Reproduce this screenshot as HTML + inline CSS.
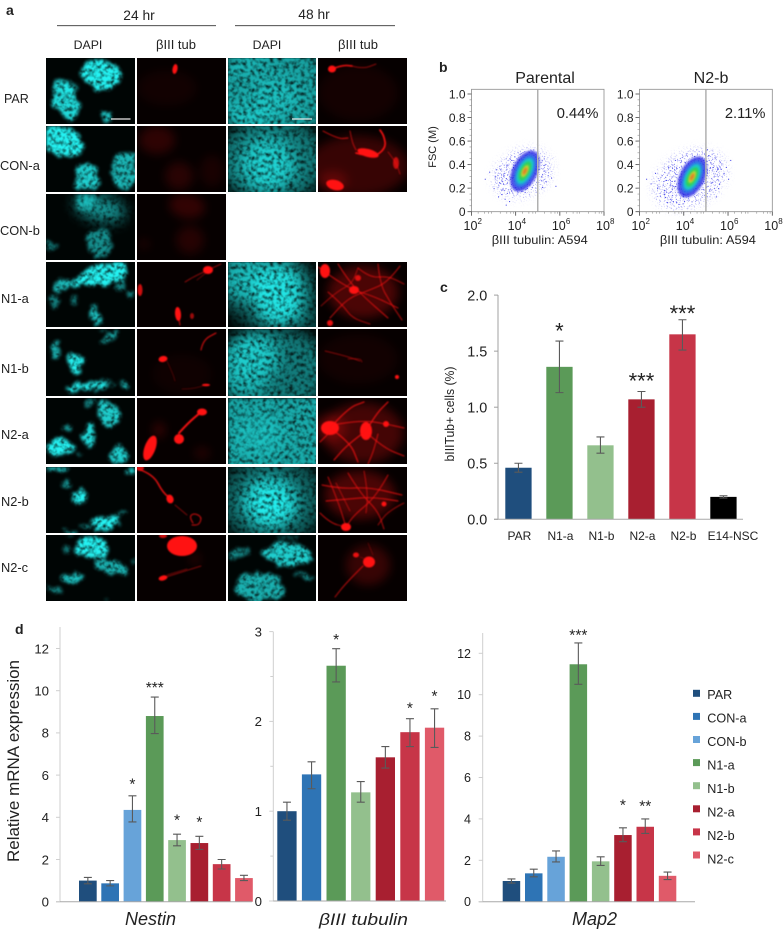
<!DOCTYPE html>
<html lang="en">
<head>
<meta charset="utf-8">
<title>Multi-panel neuronal differentiation figure</title>
<style>
html,body{margin:0;padding:0;background:#fff;width:784px;height:932px;overflow:hidden}
svg{display:block}
text{font-family:"Liberation Sans",sans-serif;fill:#222}
</style>
</head>
<body>
<svg id="figure" xmlns="http://www.w3.org/2000/svg" width="784" height="932" viewBox="0 0 784 932">
  <defs>
    <filter id="dapiTex" filterUnits="userSpaceOnUse" x="0" y="0" width="784" height="932" color-interpolation-filters="sRGB">
      <feTurbulence type="fractalNoise" baseFrequency="0.09" numOctaves="2" seed="11" result="warp"/>
      <feDisplacementMap in="SourceGraphic" in2="warp" scale="13" xChannelSelector="R" yChannelSelector="G"/>
      <feGaussianBlur stdDeviation="1.5" result="b"/>
      <feTurbulence type="fractalNoise" baseFrequency="0.26" numOctaves="3" seed="7"/>
      <feColorMatrix values="0 0 0 0 0 0 0 0 0 0 0 0 0 0 0 2.1 0 0 0 -0.2" result="n"/>
      <feComposite in="b" in2="n" operator="in"/>
      <feGaussianBlur stdDeviation="0.55"/>
    </filter>
    <filter id="dapiSoft" filterUnits="userSpaceOnUse" x="0" y="0" width="784" height="932" color-interpolation-filters="sRGB">
      <feGaussianBlur in="SourceGraphic" stdDeviation="7" result="b"/>
      <feTurbulence type="fractalNoise" baseFrequency="0.26" numOctaves="3" seed="5"/>
      <feColorMatrix values="0 0 0 0 0 0 0 0 0 0 0 0 0 0 0 2.1 0 0 0 -0.2" result="n"/>
      <feComposite in="b" in2="n" operator="in"/>
      <feGaussianBlur stdDeviation="0.55"/>
    </filter>
    <filter id="redGlow" filterUnits="userSpaceOnUse" x="0" y="0" width="784" height="932" color-interpolation-filters="sRGB">
      <feGaussianBlur in="SourceGraphic" stdDeviation="0.8"/>
    </filter>
    <filter id="redSoft" filterUnits="userSpaceOnUse" x="0" y="0" width="784" height="932" color-interpolation-filters="sRGB">
      <feGaussianBlur in="SourceGraphic" stdDeviation="5"/>
    </filter>
    <filter id="flowSoft" filterUnits="userSpaceOnUse" x="430" y="80" width="354" height="140" color-interpolation-filters="sRGB"><feGaussianBlur stdDeviation="1.1"/></filter>
    <filter id="flowSpeckle" filterUnits="userSpaceOnUse" x="430" y="80" width="354" height="140" color-interpolation-filters="sRGB">
      <feGaussianBlur in="SourceGraphic" stdDeviation="5" result="b"/>
      <feTurbulence type="fractalNoise" baseFrequency="0.8" numOctaves="1" seed="3"/>
      <feColorMatrix values="0 0 0 0 0 0 0 0 0 0 0 0 0 0 0 9 0 0 0 -5.3" result="n"/>
      <feComposite in="b" in2="n" operator="in"/>
    </filter>
  </defs>

  <rect x="0" y="0" width="784" height="932" fill="#fff"/>

  <g id="panel-a">
    <text x="6" y="15" font-size="14" font-weight="700" fill="#111">a</text>
    <text x="139" y="20" font-size="13.8" text-anchor="middle">24 hr</text>
    <line x1="57" y1="25.7" x2="216" y2="25.7" stroke="#333" stroke-width="0.9"/>
    <text x="314" y="19" font-size="13.8" text-anchor="middle">48 hr</text>
    <line x1="235" y1="25.7" x2="395" y2="25.7" stroke="#333" stroke-width="0.9"/>
    <text x="88" y="49" font-size="12.3" text-anchor="middle">DAPI</text>
    <text x="176" y="49" font-size="13" text-anchor="middle">βIII tub</text>
    <text x="267" y="49" font-size="12.3" text-anchor="middle">DAPI</text>
    <text x="358" y="49" font-size="13" text-anchor="middle">βIII tub</text>
    <text x="4" y="103" font-size="12.5">PAR</text>
    <text x="0" y="170" font-size="12.8">CON-a</text>
    <text x="0" y="235" font-size="12.8">CON-b</text>
    <text x="1" y="303" font-size="12.8">N1-a</text>
    <text x="1" y="373" font-size="12.8">N1-b</text>
    <text x="1" y="439" font-size="12.8">N2-a</text>
    <text x="1" y="506" font-size="12.8">N2-b</text>
    <text x="1" y="572" font-size="12.8">N2-c</text>
  </g>

  <g id="panel-b">
    <text x="439" y="72" font-size="14" font-weight="700" fill="#111">b</text>
    <text x="545" y="83" font-size="16" text-anchor="middle">Parental</text>
    <text x="711" y="83" font-size="16" text-anchor="middle">N2-b</text>
    <text transform="translate(436,147) rotate(-90)" font-size="11" text-anchor="middle">FSC (M)</text>
  </g>

  <g id="panel-c">
    <text x="440" y="292" font-size="14" font-weight="700" fill="#111">c</text>
    <text transform="translate(454,414) rotate(-90)" font-size="12.5" text-anchor="middle" textLength="95" lengthAdjust="spacingAndGlyphs">bIIITub+ cells (%)</text>
  </g>

  <g id="panel-d">
    <text x="15" y="634" font-size="14" font-weight="700" fill="#111">d</text>
    <text transform="translate(19,761) rotate(-90)" font-size="16.5" text-anchor="middle" textLength="202" lengthAdjust="spacingAndGlyphs">Relative  mRNA expression</text>
    <text x="150.5" y="925" font-size="18" font-style="italic" text-anchor="middle">Nestin</text>
    <text x="363.5" y="925" font-size="17" font-style="italic" text-anchor="middle" textLength="89" lengthAdjust="spacingAndGlyphs">βIII tubulin</text>
    <text x="594.5" y="925" font-size="18" font-style="italic" text-anchor="middle">Map2</text>
  </g>
</svg>

<script>
/* ---------- chart data: panel c ---------- */
const cCategories = ['PAR','N1-a','N1-b','N2-a','N2-b','E14-NSC'];
const cValues = [0.46,1.36,0.66,1.07,1.65,0.20];
const cErrHigh = [0.50,1.59,0.735,1.14,1.78,0.21];
const cErrLow = [0.42,1.13,0.59,1.00,1.51,0.19];
const cStars = ['','*','','***','***',''];
const cStarLevel = [0,1.713,0,1.267,1.873,0];
const cTicks = ['0.0','0.5','1.0','1.5','2.0'];

/* ---------- chart data: panel d ---------- */
const nestinCategories = ['PAR','CON-a','CON-b','N1-a','N1-b','N2-a','N2-b','N2-c'];
const nestinValues = [1.0,0.87,4.35,8.8,2.92,2.78,1.78,1.12];
const nestinErrHigh = [1.15,1.0,5.02,9.7,3.2,3.1,2.0,1.25];
const nestinErrLow = [0.85,0.75,3.78,7.97,2.65,2.48,1.55,1.0];
const nestinStars = ['','','*','***','*','*','',''];
const nestinStarLevel = [0,0,5.69,10.28,4.0,3.9,0,0];
const nestinTicks = [0,2,4,6,8,10,12];

const tubulinCategories = ['PAR','CON-a','N1-a','N1-b','N2-a','N2-b','N2-c'];
const tubulinValues = [1.0,1.41,2.62,1.21,1.6,1.88,1.93];
const tubulinErrHigh = [1.1,1.55,2.81,1.33,1.72,2.03,2.14];
const tubulinErrLow = [0.9,1.25,2.44,1.1,1.48,1.72,1.71];
const tubulinStars = ['','','*','','','*','*'];
const tubulinStarLevel = [0,0,2.94,0,0,2.175,2.31];
const tubulinTicks = [0,1,2,3];
const tubulinMinorTicks = [0.5,1.5,2.5];

const map2Categories = ['PAR','CON-a','CON-b','N1-a','N1-b','N2-a','N2-b','N2-c'];
const map2Values = [1.0,1.37,2.17,11.47,1.95,3.22,3.62,1.25];
const map2ErrHigh = [1.1,1.57,2.45,12.5,2.17,3.57,4.0,1.43];
const map2ErrLow = [0.9,1.2,1.92,10.5,1.75,2.9,3.3,1.07];
const map2Stars = ['','','','***','','*','**',''];
const map2StarLevel = [0,0,0,13.0,0,4.8,4.75,0];
const map2Ticks = [0,2,4,6,8,10,12];

const legendLabels = ['PAR','CON-a','CON-b','N1-a','N1-b','N2-a','N2-b','N2-c'];

/* ---------- chart data: panel b (log10 fluorescence, FSC in M) ---------- */
const flowXTicks = [2,4,6,8];
const flowYTicks = [0,0.2,0.4,0.6,0.8,1.0];
const parentalCenterLog = [4.42];
const parentalCenterFsc = [0.345];
const parentalOutlierLog = [2.6,2.8,3.0,3.05,3.2,3.25,3.3,3.4,3.45,3.5,3.6,3.6,3.7,3.75,3.8,5.15,5.2,5.3,5.35,5.45,5.6,5.8,3.1,3.35,3.55];
const parentalOutlierFsc = [0.28,0.34,0.2,0.3,0.13,0.25,0.36,0.19,0.31,0.11,0.4,0.16,0.09,0.28,0.44,0.3,0.21,0.35,0.26,0.31,0.29,0.22,0.36,0.15,0.06];
const n2bCenterLog = [4.38];
const n2bCenterFsc = [0.295];
const n2bOutlierLog = [2.3,2.5,2.7,2.8,3.0,3.1,3.2,3.3,3.4,3.5,3.6,5.1,5.2,5.3,5.35,5.4,5.5,5.6,5.7,5.8,5.9,6.0,6.1,5.15,5.25,5.45,5.55,3.05,3.25,5.05];
const n2bOutlierFsc = [0.28,0.24,0.33,0.2,0.31,0.15,0.27,0.38,0.11,0.22,0.44,0.48,0.42,0.38,0.3,0.46,0.36,0.24,0.41,0.33,0.38,0.28,0.44,0.18,0.25,0.13,0.2,0.23,0.08,0.53];

/* ---------- micrograph composition (not chart data) ---------- */
const colX = [46,137,228,318];
const colW = [89,89,88,89];
const rowY = [58,126,194,262,329,398,467,535];
const rowH = [66,66,66,65,67,66,66,66];
const rowNames = ['par','con-a','con-b','n1-a','n1-b','n2-a','n2-b','n2-c'];
// blobs: [x,y,rx,ry,rotation,opacity]  neurites: [width,opacity,x0,y0,x1,y1,...]
const micro = {
 '0-0':{b:[[54,17,19,15,0,1],[48,11,11,8,0,.7],[19,41,12,21,-25,.9],[24,30,8,8,0,.5],[60,58,6,6,0,.85]]},
 '0-1':{b:[[38,11,2.5,5,10,1],[30,30,30,18,0,.05]]},
 '0-2':{b:[[44,33,62,50,0,.68],[46,38,24,20,0,.35],[22,58,24,12,0,.45],[14,6,24,10,0,.25]]},
 '0-3':{b:[[14,11,4,3.5,0,1],[40,35,40,28,0,.06]],n:[[1.5,.95,14,11,24,7,34,8],[.8,.7,34,8,45,11,58,6]]},
 '1-0':{b:[[16,15,23,14,20,1],[40,51,14,14,0,.85],[79,44,13,19,0,.75]]},
 '1-1':{b:[[20,14,18,14,0,.16],[42,50,14,14,0,.14],[75,45,12,16,0,.08]]},
 '1-2':{b:[[44,34,55,42,0,.5],[40,38,28,28,0,.6],[38,42,24,22,0,.35]]},
 '1-3':{b:[[50,27,11,4,15,1],[17,59,9,5,15,1],[78,37,3,6,0,.7],[40,40,50,30,0,.2],[15,55,14,10,0,.2]],n:[[.9,.85,5,5,20,13,30,12],[1.6,1,38,27,55,32,68,22,66,10,62,4],[.9,.7,32,5,34,16,38,24],[.9,.6,70,26,78,36,82,48]]},
 '2-0':{b:[[54,14,26,13,15,.62],[40,8,11,8,0,.55],[53,49,13,14,0,.58],[5,51,6,5,0,.45]]},
 '2-1':{b:[[50,12,18,12,10,.18],[53,46,14,14,0,.13],[7,50,6,5,0,.1]]},
 '3-0':{b:[[56,13,28,10,-15,1],[20,22,16,5,-20,.75],[8,40,6,4,20,.5],[49,52,6,10,-10,.8],[74,22,6,7,0,.5],[28,38,5,4,0,.45],[84,32,4,3,0,.5]]},
 '3-1':{b:[[71,8,5,4,0,1],[41,52,3,7,-5,1],[3,28,2.5,6,0,.8],[55,54,2,3,0,.6]],n:[[.8,.7,71,8,58,14,48,20],[.8,.7,71,8,84,2],[.8,.5,70,10,60,18],[.9,.9,41,52,43,63]]},
 '3-2':{b:[[44,30,48,40,0,.35],[15,15,26,24,0,.65],[50,32,26,34,0,.69],[50,32,24,28,0,.69],[82,60,24,12,0,.25]]},
 '3-3':{b:[[7,9,5,7,0,1],[36,28,5,4,0,1],[40,16,3,3,0,.8],[12,61,3,3,0,.9],[45,30,35,26,0,.28]],n:[[.9,.85,0,5,15,16,35,28,55,34,80,46],[.9,.85,20,2,30,18,45,34,70,56],[.9,.85,82,4,70,20,52,28,30,36,12,56],[.9,.8,60,2,62,22,72,40,84,58],[.9,.75,10,30,24,42,34,56,52,62],[.9,.75,40,6,52,16,70,14,86,22],[.8,.65,3,44,18,30,34,22,40,6]]},
 '4-0':{b:[[29,34,7,12,-15,1],[42,57,20,5,-5,.95],[10,21,3.5,12,25,.7],[65,8,10,3,-25,.65],[78,56,3,3,0,.8],[60,50,4,3,0,.5],[70,57,3,2,0,.5],[58,2,4,2,0,.4]]},
 '4-1':{b:[[26,30,4.5,3,-10,1],[69,56,4,1.3,0,1],[45,45,30,20,0,.04]],n:[[1,.9,64,21,66,11,79,4],[.6,.5,45,60,55,60,69,56],[.6,.4,30,32,36,45,38,52]]},
 '4-2':{b:[[44,40,58,42,0,.5],[24,28,26,24,0,.69],[15,56,24,12,0,.45]]},
 '4-3':{b:[[79,48,2,2,0,1],[40,30,40,25,0,.05]],n:[[.7,.65,7,22,28,27,42,32],[.7,.6,30,30,42,29,44,33]]},
 '5-0':{b:[[62,15,9,13,-20,.85],[43,38,6,11,0,.9],[14,50,11,9,-15,1],[72,57,9,9,0,.85],[22,30,3,3,0,.65],[45,5,5,4,0,.5],[33,57,4,2,0,.5]]},
 '5-1':{b:[[13,50,5.5,13,20,1],[42,41,5,5,0,1],[65,14,5,3.5,0,1],[22,32,6,8,0,.18],[65,55,8,6,0,.12]],n:[[1.9,1,42,35,51,25,64,14]]},
 '5-2':{b:[[44,33,62,50,0,.7],[32,38,24,20,0,.35]]},
 '5-3':{b:[[12,30,9,7,0,1],[48,33,6,9,0,1],[68,26,3,3,0,1],[45,35,40,30,0,.25],[12,30,16,14,0,.25]],n:[[1.2,.9,12,30,30,10,46,4],[1.2,.9,48,33,58,16,70,4],[1.1,.85,12,30,32,44,40,64],[1.1,.85,48,33,30,46,16,62],[1,.8,20,26,44,22,68,26,86,30],[1,.8,50,36,66,50,86,58],[1,.8,2,44,12,34],[1,.75,60,36,56,52,50,66]]},
 '6-0':{b:[[32,30,6.5,7,0,1],[60,55,15,8,-8,1],[12,2,11,3,0,.9],[85,4,4,4,0,.8],[22,17,3,4,20,.65],[25,64,6,2,0,.8],[40,60,6,2,0,.65],[77,46,6,2,-30,.6]]},
 '6-1':{b:[[33,32,3.5,4.5,-20,1],[3,1,4,3,0,.8]],n:[[1.4,.95,1,2,16,7,26,26,36,33],[.7,.7,38,38,50,48],[1,.85,56,56,52,50,57,46,65,50,62,58,55,58]]},
 '6-2':{b:[[44,33,54,44,0,.38],[42,35,30,28,0,.55],[42,37,24,22,0,.69],[42,37,24,22,0,.69]]},
 '6-3':{b:[[28,60,5,4,0,1],[66,37,2.5,2.5,0,1],[42,28,35,24,0,.28]],n:[[.9,.85,4,18,24,22,50,20,84,28],[.9,.85,8,34,30,32,54,30,80,34],[.9,.8,10,10,20,34,28,60],[.9,.8,70,8,58,30,36,48,28,60],[.9,.8,30,6,42,26,60,44,66,62],[.8,.75,46,4,50,26,48,46],[.8,.75,86,36,70,44,60,58],[.9,.8,2,46,12,56,28,60],[.8,.7,18,16,32,44]]},
 '7-0':{b:[[45,13,17,11,0,1],[65,32,16,9,20,.72],[27,43,13,5,-15,.8],[10,55,9,3,30,.55],[25,1,5,2,0,.7],[22,14,3,3,0,.45],[86,26,3,3,0,.4],[60,64,2,2,0,.4]]},
 '7-1':{b:[[45,11,15,10,0,1],[26,43,4.5,2.5,-15,1],[26,1,4,2,0,.8],[58,24,5,6,0,.14]],n:[[.7,.65,26,43,48,36,64,31],[.7,.5,30,40,50,34]]},
 '7-2':{b:[[59,20,26,11,0,.85],[32,52,25,15,0,.72],[12,18,12,4,-10,.55],[77,42,11,3,0,.55],[60,3,12,3,0,.3]]},
 '7-3':{b:[[51,27,6,5.5,0,1],[38,20,3,2.5,0,.9],[50,30,22,20,0,.2]],n:[[.9,.8,45,31,28,48,17,62],[.6,.45,55,20,50,8],[.6,.45,42,22,55,27]]}
};

const svg = document.getElementById('figure');
const NS = 'http://www.w3.org/2000/svg';
function make(tag, attrs, parent){
  const el = document.createElementNS(NS, tag);
  for(const k in attrs) el.setAttribute(k, attrs[k]);
  parent.appendChild(el);
  return el;
}

/* ---------- panel a ---------- */
const panelA = document.getElementById('panel-a');
rowY.forEach(function(y, r){
  colX.forEach(function(x, c){
    const key = r + '-' + c;
    const spec = micro[key];
    if(!spec) return;
    const isDapi = c % 2 === 0;
    const w = colW[c], h = rowH[r];
    const clipId = 'clip' + r + c;
    const cp = make('clipPath', {id: clipId}, panelA);
    make('rect', {x: x, y: y, width: w, height: h}, cp);
    const cell = make('g', {'clip-path': 'url(#' + clipId + ')'}, panelA);
    
    
    make('rect', {x: x, y: y, width: w, height: h, fill: isDapi ? '#000504' : '#060000'}, cell);
    const soft = make('g', {filter: isDapi ? 'url(#dapiSoft)' : 'url(#redSoft)', transform: 'translate(' + x + ',' + y + ')'}, cell);
    const layer = make('g', {filter: isDapi ? 'url(#dapiTex)' : 'url(#redGlow)', transform: 'translate(' + x + ',' + y + ')'}, cell);
    const colour = isDapi ? '#24f2f2' : '#ff1212';
    (spec.b || []).forEach(function(b){
      if(b[5] <= 0) return;
      const isSoft = isDapi ? (b[2] >= 24 && b[5] < 0.7) : b[5] < 0.3;
      make('ellipse', {cx: b[0], cy: b[1], rx: b[2], ry: b[3], transform: 'rotate(' + b[4] + ' ' + b[0] + ' ' + b[1] + ')', fill: colour, 'fill-opacity': b[5]}, isSoft ? soft : layer);
    });
    (spec.n || []).forEach(function(n){
      const pts = n.slice(2);
      let d = 'M' + pts[0] + ' ' + pts[1];
      for(let i = 2; i < pts.length - 2; i += 2){
        d += 'Q' + pts[i] + ' ' + pts[i+1] + ' ' + ((pts[i] + pts[i+2]) / 2) + ' ' + ((pts[i+1] + pts[i+3]) / 2);
      }
      d += 'L' + pts[pts.length-2] + ' ' + pts[pts.length-1];
      make('path', {d: d, fill: 'none', stroke: colour, 'stroke-width': n[0], 'stroke-opacity': n[1], 'stroke-linecap': 'round'}, layer);
    });
  });
});
const scaleBar1 = make('line', {x1: 111, y1: 119, x2: 130.5, y2: 119, stroke: '#e8e8e8', 'stroke-width': 1.2}, panelA);


const scaleBar2 = make('line', {x1: 292, y1: 119, x2: 312, y2: 119, stroke: '#e8e8e8', 'stroke-width': 1.2}, panelA);



/* ---------- panel b ---------- */
const panelB = document.getElementById('panel-b');
const flowLayers = [
  {c:'#2424e4', mj:22, mn:12.5, rot:-64, o:.8},
  {c:'#2a7ee8', mj:17.5, mn:9, rot:-64, o:.85},
  {c:'#19c8c8', mj:14, mn:6.8, rot:-64, o:1},
  {c:'#2fd05a', mj:10.5, mn:4.8, rot:-64, o:1},
  {c:'#c8d830', mj:6.5, mn:2.8, rot:-64, o:1},
  {c:'#e07a28', mj:4, mn:1.7, rot:-64, o:1}
];
function flowPlot(name, left, right, centerLog, centerFsc, outLog, outFsc, gateLog, pct, wide){
  const top = 89.3, bottom = 211.7;
  const sx = function(v){ return left + (v - 2) * (right - left) / 6; };
  const sy = function(v){ return bottom - v * 117.7; };
  const g = make('g', {}, panelB);
  
  
  const cx = sx(centerLog[0]), cy = sy(centerFsc[0]);
  const sparse = make('ellipse', {cx: cx - 3, cy: cy + 1, rx: wide ? 38 : 30, ry: wide ? 26 : 22, transform: 'rotate(-28 ' + cx + ' ' + cy + ')', fill: '#1c1ce8', filter: 'url(#flowSpeckle)'}, g);
  
  
  flowLayers.forEach(function(l, i){
    const e = make('ellipse', {cx: cx, cy: cy, rx: l.mj, ry: l.mn, transform: 'rotate(' + l.rot + ' ' + cx + ' ' + cy + ')', fill: l.c, 'fill-opacity': l.o, filter: 'url(#flowSoft)'}, g);
    
    
  });
  outLog.forEach(function(v, i){
    const d = make('rect', {x: sx(v), y: sy(outFsc[i]), width: 1, height: 1, fill: '#3a3ae8'}, g);
    
    
  });
  const box = make('rect', {x: left, y: top, width: right - left, height: bottom - top, fill: 'none', stroke: '#8c8c8c', 'stroke-width': .8}, g);
  
  
  const gate = make('line', {x1: sx(gateLog), y1: top, x2: sx(gateLog), y2: bottom, stroke: '#b0b0b0', 'stroke-width': 1.5}, g);
  
  
  const pctT = make('text', {x: sx(gateLog) + 19, y: 118, 'font-size': 14.7}, g);
  pctT.textContent = pct;
  
  
  flowYTicks.forEach(function(v){
    const t = make('line', {x1: left - 4, y1: sy(v), x2: left, y2: sy(v), stroke: '#444', 'stroke-width': .8}, g);
    
    
    const l = make('text', {x: left - 6, y: sy(v) + 4.5, 'font-size': 12, 'text-anchor': 'end'}, g);
    l.textContent = v === 0 ? '0' : v.toFixed(1);
    
    
  });
  for(let v = 0.05; v < 1.02; v += 0.05){
    const m = make('line', {x1: left - 2, y1: sy(v), x2: left, y2: sy(v), stroke: '#777', 'stroke-width': .5}, g);
    
    
  }
  flowXTicks.forEach(function(v){
    const t = make('line', {x1: sx(v), y1: bottom, x2: sx(v), y2: bottom + 4, stroke: '#444', 'stroke-width': .8}, g);
    
    
    const l = make('text', {x: sx(v) - 8, y: 230, 'font-size': 12.5}, g);
    l.textContent = '10';
    
    
    const s = make('text', {x: sx(v) + 6, y: 224, 'font-size': 8}, g);
    s.textContent = String(v);
    
    
  });
  for(let d = 2; d < 8; d++){
    [0.3,0.6,0.78,0.9].forEach(function(frac){
      const m = make('line', {x1: sx(d + frac), y1: bottom, x2: sx(d + frac), y2: bottom + 2, stroke: '#777', 'stroke-width': .5}, g);
      
      
    });
  }
  const xt = make('text', {x: (left + right) / 2 + 2, y: 244, 'font-size': 12, 'text-anchor': 'middle', textLength: 96, lengthAdjust: 'spacingAndGlyphs'}, g);
  xt.textContent = 'βIII tubulin: A594';
  
  
}
flowPlot('parental', 471.5, 604, parentalCenterLog, parentalCenterFsc, parentalOutlierLog, parentalOutlierFsc, 5, '0.44%', false);
flowPlot('n2-b', 639.5, 772.3, n2bCenterLog, n2bCenterFsc, n2bOutlierLog, n2bOutlierFsc, 5, '2.11%', true);

/* ---------- bar charts ---------- */
const seriesColour = {'PAR':'#1f4e7d','CON-a':'#2e74b5','CON-b':'#67a3d9','N1-a':'#5b9a58','N1-b':'#93c08d','N2-a':'#a81f30','N2-b':'#c73548','N2-c':'#e05a69','E14-NSC':'#000000'};

function barChart(o){
  const root = document.getElementById(o.parent);
  const g = make('g', {}, root);
  
  
  const sy = function(v){ return o.y0 - v * o.unit; };
  const sx = function(i){ return o.firstX + i * o.pitch; };
  o.values.forEach(function(v, i){
    const cat = o.categories[i];
    const bar = make('rect', {x: sx(i), y: sy(v), width: o.barW, height: sy(0) - sy(v), fill: seriesColour[cat]}, g);
    
    
    const mid = sx(i) + o.barW / 2;
    const err = make('path', {d: 'M' + (mid - o.cap) + ' ' + sy(o.errHigh[i]) + 'H' + (mid + o.cap) + 'M' + mid + ' ' + sy(o.errHigh[i]) + 'V' + sy(o.errLow[i]) + 'M' + (mid - o.cap) + ' ' + sy(o.errLow[i]) + 'H' + (mid + o.cap), fill: 'none', stroke: '#5a5a5a', 'stroke-width': 1.1}, g);
    
    
    if(o.stars[i]){
      const st = make('text', {x: mid, y: sy(o.starLevel[i]) + o.starSize * 0.52, 'font-size': o.starSize, 'text-anchor': 'middle', fill: '#111'}, g);
      st.textContent = o.stars[i];
      
      
    }
    if(o.catLabels){
      const lab = make('text', {x: mid + (cat === 'E14-NSC' ? 9.5 : 1), y: o.catY, 'font-size': 12, 'text-anchor': 'middle'}, g);
      lab.textContent = cat;
      
      
    }
  });
  const yAxis = make('line', {x1: o.axisX, y1: o.axisTop, x2: o.axisX, y2: o.y0, stroke: o.axisColour, 'stroke-width': 1}, g);
  
  
  const xAxis = make('line', {x1: o.axisX - 4, y1: o.y0, x2: o.axisEnd, y2: o.y0, stroke: '#a8a8a8', 'stroke-width': 1}, g);
  
  
  o.ticks.forEach(function(t){
    const v = parseFloat(t);
    const m = make('line', {x1: o.axisX - 4, y1: sy(v), x2: o.axisX, y2: sy(v), stroke: o.axisColour, 'stroke-width': 1}, g);
    
    
    const l = make('text', {x: o.axisX - o.labelGap, y: sy(v) + o.tickFont * 0.36, 'font-size': o.tickFont, 'text-anchor': 'end'}, g);
    l.textContent = String(t);
    
    
  });
  (o.minor || []).forEach(function(v){
    const m = make('line', {x1: o.axisX - 3, y1: sy(v), x2: o.axisX, y2: sy(v), stroke: o.axisColour, 'stroke-width': 1}, g);
    
    
  });
}

barChart({parent:'panel-c', name:'biii-cells', categories:cCategories, values:cValues, errHigh:cErrHigh, errLow:cErrLow, stars:cStars, starLevel:cStarLevel, ticks:cTicks,
  y0:519.3, unit:112.1, firstX:505.3, pitch:41, barW:26.3, cap:4, starSize:22, axisX:498, axisTop:295, axisEnd:743, axisColour:'#a0a0a0', labelGap:10.7, tickFont:14.4, catLabels:true, catY:540});
barChart({parent:'panel-d', name:'nestin', categories:nestinCategories, values:nestinValues, errHigh:nestinErrHigh, errLow:nestinErrLow, stars:nestinStars, starLevel:nestinStarLevel, ticks:nestinTicks,
  y0:901.7, unit:21.1, firstX:79, pitch:22.3, barW:17.7, cap:4, starSize:15.5, axisX:60, axisTop:627, axisEnd:252, axisColour:'#cfcfcf', labelGap:11, tickFont:13.2});
barChart({parent:'panel-d', name:'biii-tubulin', categories:tubulinCategories, values:tubulinValues, errHigh:tubulinErrHigh, errLow:tubulinErrLow, stars:tubulinStars, starLevel:tubulinStarLevel, ticks:tubulinTicks, minor:tubulinMinorTicks,
  y0:901, unit:89.8, firstX:277.3, pitch:24.6, barW:19.3, cap:4, starSize:15.5, axisX:273.3, axisTop:631.7, axisEnd:446, axisColour:'#cfcfcf', labelGap:11.3, tickFont:13.2});
barChart({parent:'panel-d', name:'map2', categories:map2Categories, values:map2Values, errHigh:map2ErrHigh, errLow:map2ErrLow, stars:map2Stars, starLevel:map2StarLevel, ticks:map2Ticks,
  y0:901.7, unit:20.7, firstX:502.7, pitch:22.3, barW:17.5, cap:4, starSize:15.5, axisX:482.7, axisTop:633, axisEnd:695, axisColour:'#cfcfcf', labelGap:11.7, tickFont:12.5});

/* ---------- legend ---------- */
const legendG = make('g', {}, document.getElementById('panel-d'));


legendLabels.forEach(function(lbl, i){
  const entry = make('g', {}, legendG);
  
  
  const sw = make('rect', {x: 693, y: 693.3 + i * 23.1 - 3.5, width: 7, height: 7, fill: seriesColour[lbl]}, entry);
  
  
  const tx = make('text', {x: 707.3, y: 694.7 + i * 23.5 + 4.5, 'font-size': 12.6}, entry);
  tx.textContent = lbl;
  
  
});
</script>
</body>
</html>
